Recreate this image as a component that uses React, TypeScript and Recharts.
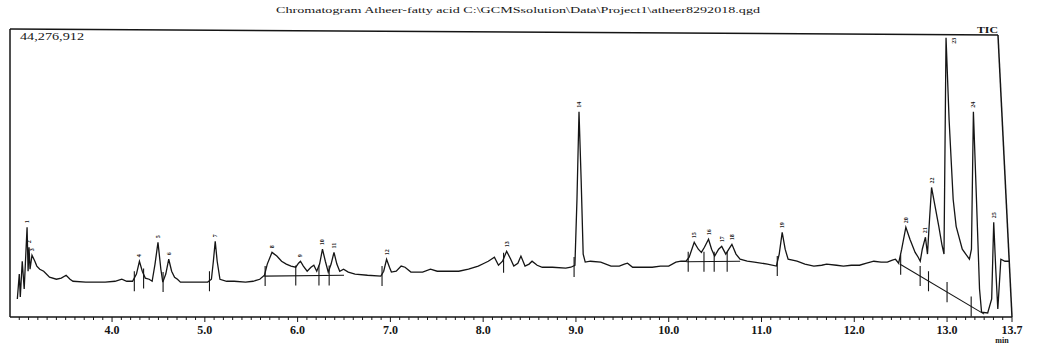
import React from 'react';
import { ComposedChart, Line, Scatter, XAxis, YAxis, ReferenceLine } from 'recharts';

// Retention time (min) and TIC intensity (% of full scale 44,276,912)
const retentionTimes = [
  2.979, 3.0, 3.011, 3.032, 3.053, 3.084, 3.095, 3.105, 3.116, 3.137, 3.168, 3.189, 3.221, 3.263, 3.326, 3.4, 3.453, 3.505, 3.547, 3.579,
  3.716, 3.926, 4.032, 4.105, 4.158, 4.221, 4.263, 4.295, 4.326, 4.358, 4.4, 4.432, 4.463, 4.495, 4.526, 4.547, 4.579, 4.611, 4.642, 4.674,
  4.705, 4.737, 4.874, 5.031, 5.071, 5.092, 5.112, 5.133, 5.163, 5.235, 5.316, 5.439, 5.52, 5.592, 5.643, 5.673, 5.724, 5.776, 5.827, 5.878,
  5.929, 5.98, 6.01, 6.031, 6.062, 6.103, 6.144, 6.175, 6.206, 6.237, 6.268, 6.299, 6.33, 6.361, 6.392, 6.423, 6.454, 6.495, 6.546, 6.619,
  6.753, 6.897, 6.928, 6.959, 6.99, 7.011, 7.063, 7.116, 7.158, 7.221, 7.347, 7.432, 7.505, 7.611, 7.737, 7.842, 7.947, 8.011, 8.055, 8.088,
  8.121, 8.165, 8.209, 8.253, 8.297, 8.33, 8.374, 8.407, 8.451, 8.495, 8.527, 8.582, 8.637, 8.747, 8.89, 8.945, 8.989, 9.011, 9.033, 9.056,
  9.078, 9.1, 9.156, 9.267, 9.378, 9.467, 9.522, 9.556, 9.611, 9.689, 9.822, 9.911, 10.0, 10.077, 10.132, 10.187, 10.22, 10.275, 10.319, 10.352,
  10.385, 10.429, 10.462, 10.495, 10.538, 10.571, 10.615, 10.648, 10.681, 10.725, 10.769, 10.846, 10.923, 11.064, 11.16, 11.191, 11.223, 11.255, 11.287, 11.383,
  11.468, 11.564, 11.649, 11.702, 11.809, 11.883, 11.968, 12.056, 12.133, 12.211, 12.289, 12.356, 12.411, 12.444, 12.478, 12.511, 12.556, 12.6, 12.656, 12.689,
  12.711, 12.733, 12.767, 12.789, 12.811, 12.833, 12.867, 12.911, 12.944, 12.967, 12.989, 13.022, 13.066, 13.098, 13.164, 13.241, 13.263, 13.284, 13.317, 13.35,
  13.372, 13.438, 13.481, 13.503, 13.525, 13.547, 13.58, 13.624, 13.678,
];
const ticValues = [
  6.3, 15.0, 7.0, 19.5, 9.8, 31.4, 16.0, 24.4, 16.7, 21.6, 19.5, 17.8, 16.7, 16.0, 13.9, 13.2, 13.6, 14.6, 13.2, 12.5,
  12.2, 12.2, 12.5, 13.2, 12.5, 12.5, 15.0, 19.5, 16.0, 13.6, 13.2, 12.5, 18.5, 26.1, 16.7, 12.2, 15.0, 20.2, 16.0, 13.9,
  13.2, 12.2, 12.2, 12.2, 13.2, 19.5, 26.5, 19.5, 13.2, 12.5, 12.5, 12.2, 12.5, 13.2, 14.6, 18.5, 22.6, 21.3, 19.5, 18.5,
  17.8, 17.4, 18.8, 19.5, 17.8, 16.0, 17.4, 18.1, 16.0, 18.5, 23.7, 19.5, 15.7, 18.5, 22.6, 18.5, 16.0, 16.7, 15.7, 15.0,
  14.6, 14.3, 16.0, 20.2, 17.4, 15.7, 16.0, 17.8, 17.4, 15.7, 15.7, 16.7, 16.0, 16.0, 16.0, 16.7, 17.8, 18.8, 19.5, 20.2,
  20.9, 18.1, 19.5, 23.0, 20.2, 17.8, 18.8, 21.3, 17.8, 18.5, 19.5, 18.1, 17.4, 17.4, 17.1, 17.4, 18.1, 41.1, 71.8, 48.1,
  22.0, 19.2, 19.5, 19.2, 17.8, 17.8, 18.5, 18.8, 17.4, 17.4, 17.4, 17.8, 17.8, 19.2, 19.5, 19.5, 20.9, 26.1, 23.7, 22.6,
  24.4, 27.2, 23.7, 21.3, 23.7, 24.7, 22.0, 23.7, 25.4, 22.0, 20.2, 19.5, 19.2, 18.5, 17.8, 22.0, 29.6, 23.7, 20.2, 19.5,
  18.5, 17.8, 18.1, 18.5, 18.1, 17.8, 18.1, 18.1, 18.8, 19.5, 19.2, 19.2, 19.9, 20.2, 18.8, 23.7, 31.4, 27.2, 22.6, 20.9,
  19.5, 23.7, 27.9, 22.0, 34.1, 45.3, 39.4, 31.7, 25.4, 22.0, 97.6, 69.0, 41.1, 31.7, 23.7, 20.2, 23.7, 71.8, 41.1, 9.8,
  1.7, 1.4, 6.3, 33.1, 16.7, 2.8, 20.2, 19.5, 19.5,
];

// Peak annotations
const peakNames = ['1', '2', '3', '4', '5', '6', '7', '8', '9', '10', '11', '12', '13', '14', '15', '16', '17', '18', '19', '20', '21', '22', '23', '24', '25'];
const peakTimes = [3.084, 3.105, 3.137, 4.295, 4.495, 4.611, 5.112, 5.724, 6.031, 6.268, 6.392, 6.959, 8.253, 9.033, 10.275, 10.429, 10.571, 10.681, 11.223, 12.556, 12.767, 12.833, 12.989, 13.284, 13.503];
const peakHeights = [31.4, 24.4, 21.6, 19.5, 26.1, 20.2, 26.5, 22.6, 19.5, 23.7, 22.6, 20.2, 23.0, 71.8, 26.1, 27.2, 24.7, 25.4, 29.6, 31.4, 27.9, 45.3, 97.6, 71.8, 33.1];

// Integration baselines (start time, start level, end time, end level)
const baselineStartTimes = [5.64, 10.19, 12.49];
const baselineStartLevels = [14.3, 19.3, 18.5];
const baselineEndTimes = [6.5, 10.77, 13.4];
const baselineEndLevels = [14.6, 19.5, 1.0];

// Peak boundary markers
const markerTimes = [4.24, 4.34, 4.55, 5.05, 5.65, 5.98, 6.23, 6.34, 6.91, 8.22, 8.98, 10.21, 10.38, 10.49, 10.63, 11.17, 12.5, 12.71, 12.8, 13.0, 13.26];
const markerLevels = [12.5, 13.5, 12.2, 12.5, 14.3, 14.5, 14.5, 14.5, 14.3, 19.0, 17.5, 19.3, 19.3, 19.3, 19.3, 17.8, 18.3, 14.3, 12.5, 8.7, 3.7];

// X axis ticks
const majorTicks = [4.0, 5.0, 6.0, 7.0, 8.0, 9.0, 10.0, 11.0, 12.0, 13.0, 13.7];
const minorTicks: number[] = [];
for (let i = 30; i <= 137; i++) minorTicks.push(i / 10);

const traceData = retentionTimes.map((t, i) => ({ t, p: ticValues[i] }));
const peakData = peakTimes.map((t, i) => ({ t, p: peakHeights[i], name: peakNames[i] }));

const INK = '#151515';
const SERIF = '"Liberation Serif", "DejaVu Serif", serif';

const AxisTick = (props: any) => {
  const { x, y, payload } = props;
  const v = payload.value as number;
  const isMajor = majorTicks.some((m) => Math.abs(m - v) < 1e-6);
  return (
    <g>
      <line x1={x} y1={y} x2={x} y2={y + (isMajor ? 5 : 3)} stroke={INK} strokeWidth={1} />
      {isMajor && (
        <text x={x} y={y + 17} textAnchor="middle" fontFamily={SERIF} fontWeight="bold" fontSize={12} fill={INK}>
          {v.toFixed(1)}
        </text>
      )}
    </g>
  );
};

const PeakLabel = (props: any) => {
  const { cx, cy, payload } = props;
  if (cx == null || cy == null) return <g />;
  const atTop = cy < 60;
  const x = atTop ? cx + 10 : cx + 2;
  const y = atTop ? cy + 6 : cy - 4;
  return (
    <text x={x} y={y} transform={`rotate(-90 ${x} ${y})`} fontSize={6} fontFamily={SERIF} fontWeight="bold" fill={INK}>
      {payload.name}
    </text>
  );
};

export default function App() {
  return (
    <div style={{ position: 'absolute', left: 0, top: 0, width: 1039, height: 349, background: '#fff' }}>
      <ComposedChart width={1039} height={349} margin={{ top: 31, right: 27, left: 10, bottom: 0 }}>
        <XAxis
          dataKey="t"
          type="number"
          domain={[2.9, 13.7]}
          allowDataOverflow
          ticks={minorTicks}
          interval={0}
          tick={<AxisTick />}
          tickSize={0}
          tickMargin={0}
          height={32}
          axisLine={{ stroke: INK, strokeWidth: 1.5 }}
        />
        <YAxis type="number" domain={[0, 100]} allowDataOverflow hide />
        <ReferenceLine segment={[{ x: 2.9, y: 0 }, { x: 2.9, y: 100.7 }]} stroke={INK} strokeWidth={1.5} ifOverflow="visible" />
        <ReferenceLine segment={[{ x: 2.9, y: 100.7 }, { x: 13.549, y: 98.6 }]} stroke={INK} strokeWidth={1.5} ifOverflow="visible" />
        <ReferenceLine segment={[{ x: 13.549, y: 98.6 }, { x: 13.7, y: 0 }]} stroke={INK} strokeWidth={1.5} ifOverflow="visible" />
        {baselineStartTimes.map((t, i) => (
          <ReferenceLine
            key={`b${i}`}
            segment={[{ x: t, y: baselineStartLevels[i] }, { x: baselineEndTimes[i], y: baselineEndLevels[i] }]}
            stroke={INK}
            strokeWidth={1.1}
            ifOverflow="visible"
          />
        ))}
        {markerTimes.map((t, i) => (
          <ReferenceLine
            key={`m${i}`}
            segment={[{ x: t, y: markerLevels[i] - 3.5 }, { x: t, y: markerLevels[i] + 3.5 }]}
            stroke={INK}
            strokeWidth={1.1}
            ifOverflow="visible"
          />
        ))}
        <Line data={traceData} dataKey="p" type="linear" dot={false} stroke={INK} strokeWidth={1.3} isAnimationActive={false} />
        <Scatter data={peakData} dataKey="p" shape={<PeakLabel />} isAnimationActive={false} />
      </ComposedChart>
      <svg width={1039} height={349} style={{ position: 'absolute', left: 0, top: 0, pointerEvents: 'none' }}>
        <text x={276} y={13} fontFamily={SERIF} fontSize={9} fill={INK} textLength={484} lengthAdjust="spacingAndGlyphs">
          {'Chromatogram Atheer-fatty acid C:\\GCMSsolution\\Data\\Project1\\atheer8292018.qgd'}
        </text>
        <text x={20} y={40} fontFamily={SERIF} fontSize={10} fill={INK} textLength={64} lengthAdjust="spacingAndGlyphs">
          44,276,912
        </text>
        <text x={977} y={33} fontFamily={SERIF} fontSize={9} fontWeight="bold" fill={INK} textLength={21} lengthAdjust="spacingAndGlyphs">
          TIC
        </text>
        <text x={1002} y={343} textAnchor="middle" fontFamily={SERIF} fontSize={8} fontWeight="bold" fill={INK}>
          min
        </text>
      </svg>
    </div>
  );
}
